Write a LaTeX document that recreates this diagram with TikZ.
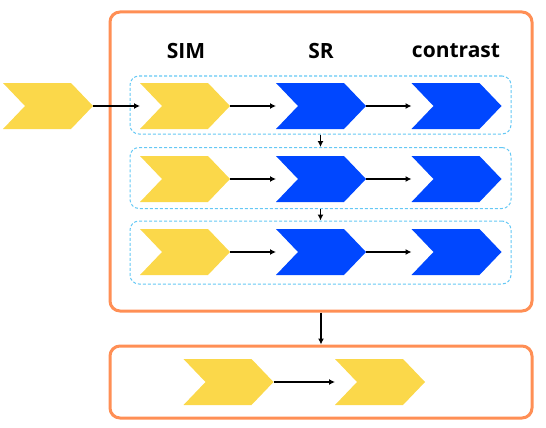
\documentclass[tikz,border=0pt]{standalone}
\usepackage{fontspec}
\setmainfont{Open Sans}
\usetikzlibrary{arrows.meta}
\definecolor{chy}{RGB}{251,216,74}
\definecolor{chb}{RGB}{0,71,255}
\definecolor{orng}{RGB}{255,143,85}
\definecolor{dashblue}{RGB}{100,200,245}
\tikzset{
 chevnode/.style={minimum width=90pt,minimum height=46pt,inner sep=0pt,outer sep=0pt},
 bigbox/.style={draw=orng,line width=3pt,rounded corners=10pt,inner sep=0pt,minimum width=422pt},
 rowbox/.style={draw=dashblue,line width=1pt,dash pattern=on 3pt off 2pt,rounded corners=9pt,inner sep=0pt,minimum width=381pt},
 conn/.style={-{Latex[length=6pt,width=6pt]},line width=1.4pt,black},
 lbl/.style={font=\bfseries\fontsize{21}{25}\selectfont}
}
\newcommand\chevfill[2]{\fill[#2] (#1.north west) -- ([xshift=-22pt]#1.north east) -- (#1.east) -- ([xshift=-22pt]#1.south east) -- (#1.south west) -- ([xshift=22pt]#1.west) -- cycle;}
\begin{document}
\begin{tikzpicture}[x={(1pt,0pt)},y={(0pt,-1pt)}]
\useasboundingbox (0,0) rectangle (546,428);
% big boxes
\node[bigbox,minimum height=299pt] (main) at (321,161.5) {};
\node[bigbox,minimum height=72pt] (out) at (321,382) {};
% row boxes
\node[rowbox,minimum height=58pt] (r1) at (320.5,105) {};
\node[rowbox,minimum height=61pt] (r2) at (320.5,178) {};
\node[rowbox,minimum height=63pt] (r3) at (320.5,252.5) {};
% labels
\node[lbl] (lsim) at (186,51) {SIM};
\node[lbl] (lsr) at (321,51) {SR};
\node[lbl] (lcon) at (456,51) {contrast};
% chevrons
\node[chevnode] (in) at (48,106) {};
\node[chevnode] (a1) at (185,106) {};
\node[chevnode] (b1) at (321,106) {};
\node[chevnode] (c1) at (456.5,106) {};
\node[chevnode] (a2) at (185,179) {};
\node[chevnode] (b2) at (321,179) {};
\node[chevnode] (c2) at (456.5,179) {};
\node[chevnode] (a3) at (185,252) {};
\node[chevnode] (b3) at (321,252) {};
\node[chevnode] (c3) at (456.5,252) {};
\node[chevnode] (o1) at (228.5,382) {};
\node[chevnode] (o2) at (380,382) {};
\chevfill{in}{chy}
\chevfill{a1}{chy}\chevfill{a2}{chy}\chevfill{a3}{chy}
\chevfill{b1}{chb}\chevfill{b2}{chb}\chevfill{b3}{chb}
\chevfill{c1}{chb}\chevfill{c2}{chb}\chevfill{c3}{chb}
\chevfill{o1}{chy}\chevfill{o2}{chy}
% connectors
\draw[conn] (in.east) -- (a1.west);
\draw[conn] (a1.east) -- (b1.west);
\draw[conn] (b1.east) -- (c1.west);
\draw[conn] (a2.east) -- (b2.west);
\draw[conn] (b2.east) -- (c2.west);
\draw[conn] (a3.east) -- (b3.west);
\draw[conn] (b3.east) -- (c3.west);
\draw[conn] (r1.south) -- (r2.north);
\draw[conn] (r2.south) -- (r3.north);
\draw[conn] (main.south) -- (out.north);
\draw[conn] (o1.east) -- (o2.west);
\end{tikzpicture}
\end{document}
